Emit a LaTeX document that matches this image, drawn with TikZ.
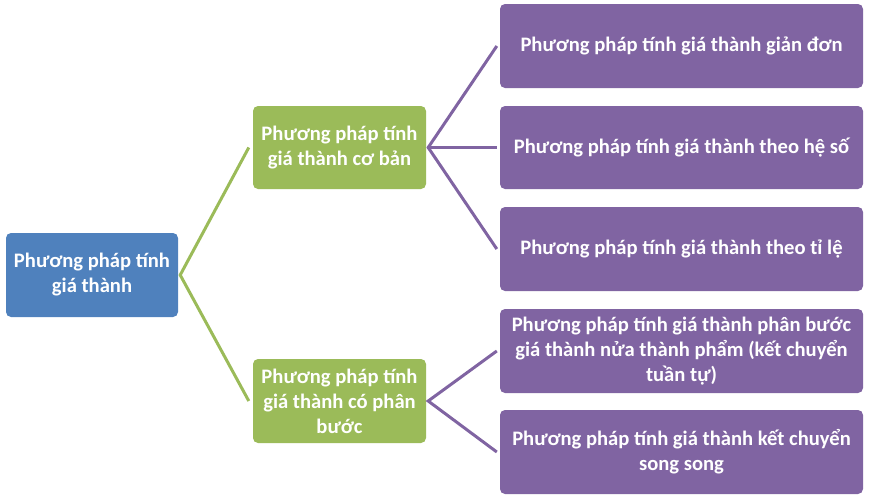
\documentclass[tikz,border=0pt]{standalone}
\usepackage{fontspec}
\setmainfont{Carlito}
\definecolor{cblue}{HTML}{4F81BD}
\definecolor{cgreen}{HTML}{9BBB59}
\definecolor{cpurple}{HTML}{8064A2}
\begin{document}
\begin{tikzpicture}[x=1pt,y=-1pt,
  box/.style={rounded corners=5pt, inner sep=0pt, align=center, text=white,
    font=\fontsize{20.6}{25}\selectfont\bfseries},
  rootbox/.style={box, fill=cblue, minimum width=172pt, minimum height=84pt},
  midbox/.style={box, fill=cgreen, minimum width=173pt, minimum height=83pt},
  leafbox/.style={box, fill=cpurple, minimum width=363pt, minimum height=84pt},
  gline/.style={draw=cgreen, line width=3pt},
  pline/.style={draw=cpurple, line width=3pt}]
\useasboundingbox (0,0) rectangle (871,499);
\node[rootbox] (r) at (92,275) {Phương pháp tính\\giá thành};
\node[midbox] (g1) at (339.5,147.5) {Phương pháp tính\\giá thành cơ bản};
\node[midbox, minimum height=84pt] (g2) at (339.5,401) {Phương pháp tính\\giá thành có phân\\bước};
\node[leafbox] (p1) at (681.5,46) {Phương pháp tính giá thành giản đơn};
\node[leafbox, minimum height=83pt] (p2) at (681.5,147.5) {Phương pháp tính giá thành theo hệ số};
\node[leafbox] (p3) at (681.5,249) {Phương pháp tính giá thành theo tỉ lệ};
\node[leafbox] (p4) at (681.5,351) {Phương pháp tính giá thành phân bước\\giá thành nửa thành phẩm (kết chuyển\\tuần tự)};
\node[leafbox] (p5) at (681.5,452) {Phương pháp tính giá thành kết chuyển\\song song};
\coordinate (rv) at ([xshift=2pt]r.east);
\coordinate (g1v) at ([xshift=2pt]g1.east);
\coordinate (g2v) at ([xshift=2pt]g2.east);
\coordinate (g1w) at ([xshift=-4pt]g1.west);
\coordinate (g2w) at ([xshift=-4pt]g2.west);
\coordinate (p1w) at ([xshift=-3pt]p1.west);
\coordinate (p2w) at ([xshift=-3pt]p2.west);
\coordinate (p3w) at ([xshift=-3pt]p3.west);
\coordinate (p4w) at ([xshift=-3pt]p4.west);
\coordinate (p5w) at ([xshift=-3pt]p5.west);
\draw[gline] (g1w) -- (rv) -- (g2w);
\draw[pline] (p1w) -- (g1v) -- (p3w);
\draw[pline] (g1v) -- (p2w);
\draw[pline] (p4w) -- (g2v) -- (p5w);
\end{tikzpicture}
\end{document}
